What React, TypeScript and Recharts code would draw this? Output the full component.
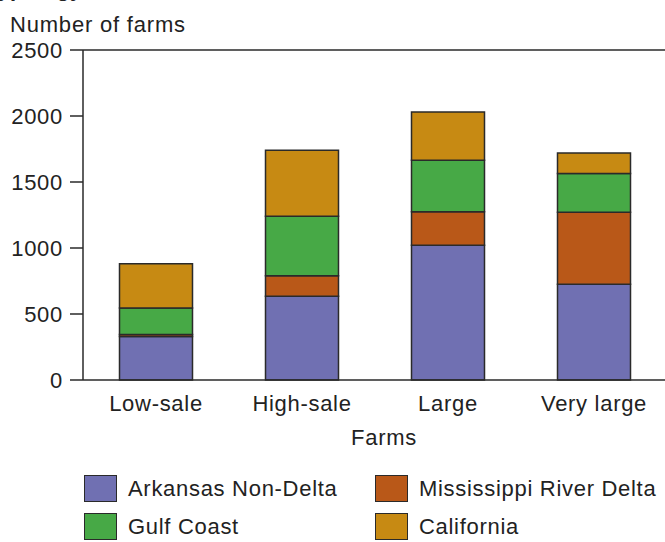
import React from 'react';
import { BarChart, Bar, XAxis, YAxis, ReferenceLine, Label } from 'recharts';

const categories = ['Low-sale', 'High-sale', 'Large', 'Very large'];
const arkansasNonDelta = [330, 635, 1020, 725];
const mississippiRiverDelta = [15, 155, 255, 545];
const gulfCoast = [200, 450, 390, 295];
const california = [335, 500, 365, 155];
const yTicks = [0, 500, 1000, 1500, 2000, 2500];

const seriesNames = ['Arkansas Non-Delta', 'Mississippi River Delta', 'Gulf Coast', 'California'];
const seriesKeys = ['ark', 'msd', 'gulf', 'cal'];
const seriesColors = ['#7070b2', '#b95818', '#47a946', '#c78a13'];

const data = categories.map((c, i) => ({
  name: c,
  ark: arkansasNonDelta[i],
  msd: mississippiRiverDelta[i],
  gulf: gulfCoast[i],
  cal: california[i],
}));

const FONT = '"Liberation Sans", Arial, Helvetica, sans-serif';
const INK = '#2a2a2a';
const TXT = '#222';
const LS = 0.7;

const tickStyle = { fill: TXT, fontSize: 22, fontFamily: FONT, letterSpacing: LS };

function LegendBlock() {
  return (
    <div style={{ position: 'absolute', left: 0, top: 475, width: 665, height: 67, fontFamily: FONT }}>
      {seriesKeys.map((k, idx) => {
        const col = idx % 2;
        const row = Math.floor(idx / 2);
        return (
          <div
            key={k}
            style={{
              position: 'absolute',
              left: col === 0 ? 84 : 375,
              top: row * 38,
              height: 27,
              display: 'flex',
              alignItems: 'center',
            }}
          >
            <div
              style={{
                width: 33,
                height: 27,
                background: seriesColors[idx],
                border: `1.5px solid ${INK}`,
                boxSizing: 'border-box',
                flex: 'none',
              }}
            />
            <span style={{ marginLeft: 11, fontSize: 22, letterSpacing: LS, color: TXT, whiteSpace: 'nowrap' }}>
              {seriesNames[idx]}
            </span>
          </div>
        );
      })}
    </div>
  );
}

export default function App() {
  return (
    <div style={{ position: 'absolute', left: 0, top: 0, width: 665, height: 542, background: '#fff', overflow: 'hidden', fontFamily: FONT }}>
      <div style={{ position: 'absolute', left: -14, top: -24, fontSize: 22, fontWeight: 'bold', color: TXT, whiteSpace: 'nowrap', lineHeight: '25px' }}>
        Typology,
      </div>
      <div style={{ position: 'absolute', left: 10, top: 12, fontSize: 22, letterSpacing: 0.8, color: TXT, whiteSpace: 'nowrap', lineHeight: 'normal' }}>
        Number of farms
      </div>
      <div style={{ position: 'absolute', left: 0, top: 0 }}>
        <BarChart
          width={665}
          height={542}
          data={data}
          margin={{ top: 50, right: -2, bottom: 97, left: 0 }}
          barCategoryGap="25%"
        >
          <ReferenceLine y={2500} stroke={INK} strokeWidth={1.5} ifOverflow="extendDomain" />
          <XAxis
            dataKey="name"
            axisLine={{ stroke: INK, strokeWidth: 1.5 }}
            tickLine={false}
            tickSize={4}
            tickMargin={11}
            height={65}
            tick={tickStyle}
          >
            <Label value="Farms" position="insideBottom" offset={0} dx={9} style={{ fill: TXT, fontSize: 22, fontFamily: FONT, letterSpacing: LS }} />
          </XAxis>
          <YAxis
            width={83}
            domain={[0, 2500]}
            ticks={yTicks}
            axisLine={{ stroke: INK, strokeWidth: 1.5 }}
            tickLine={{ stroke: INK, strokeWidth: 1.5 }}
            tickSize={13}
            tickMargin={7}
            tick={tickStyle}
          />
          {seriesKeys.map((k, i) => (
            <Bar
              key={k}
              dataKey={k}
              name={seriesNames[i]}
              stackId="a"
              fill={seriesColors[i]}
              stroke={INK}
              strokeWidth={1.5}
              isAnimationActive={false}
            />
          ))}
        </BarChart>
      </div>
      <LegendBlock />
    </div>
  );
}
